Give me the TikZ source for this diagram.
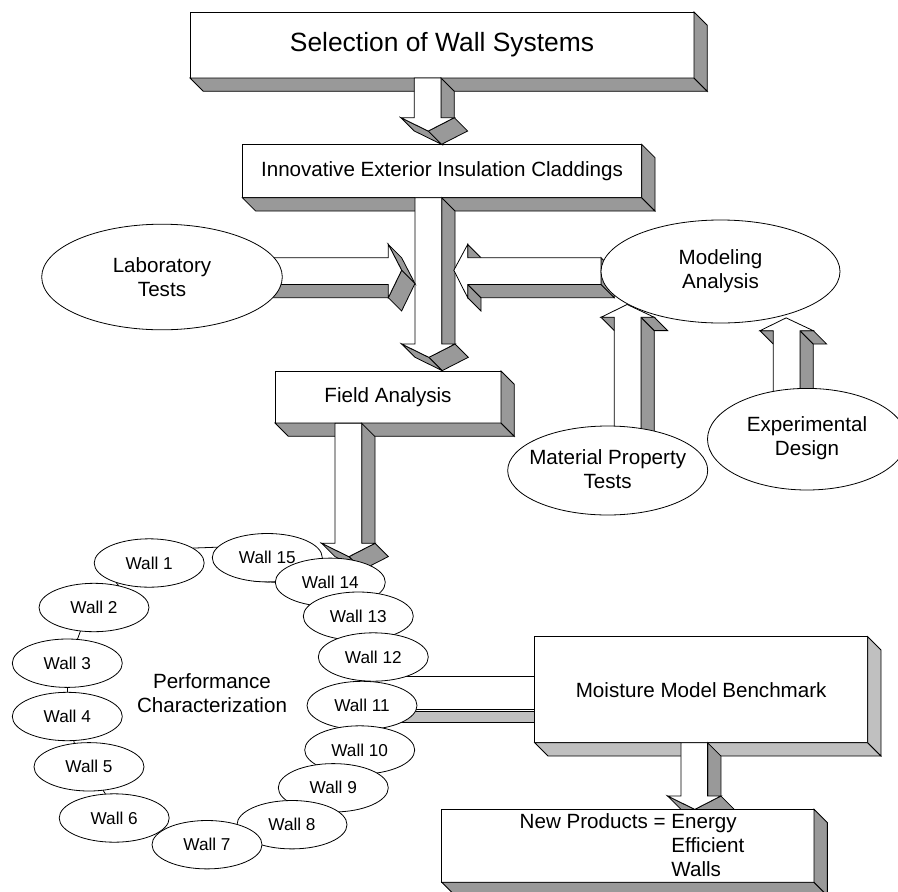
\documentclass[tikz,border=0pt]{standalone}
\usepackage{fontspec}
\setmainfont{Liberation Sans}
\usetikzlibrary{calc,shapes.geometric}
\pgfdeclarelayer{bg}
\pgfsetlayers{bg,main}
\definecolor{sidegray}{HTML}{999999}
\definecolor{lightside}{HTML}{C0C0C0}
\tikzset{
  sideline/.style={draw=black, line width=0.8pt, line join=miter},
  box3d/.style={rectangle, draw=black, fill=white, line width=0.8pt, inner sep=0pt, outer sep=0pt, align=center},
  oval/.style={ellipse, draw=black, fill=white, line width=0.8pt, inner sep=0pt, outer sep=0pt},
  wall/.style={oval, minimum width=110pt, minimum height=48.4pt, font=\fontsize{17.2}{20}\selectfont},
  txt/.style={align=center, inner sep=0pt, font=\fontsize{20.6}{24}\selectfont},
  link/.style={draw=black, line width=0.8pt},
}
\newcommand\boxsides[2]{%
  \filldraw[sideline, fill=#2] (#1.south west) -- (#1.south east) -- ($(#1.south east)+(13.3,13.3)$) -- ($(#1.south west)+(13.3,13.3)$) -- cycle;
  \filldraw[sideline, fill=#2] (#1.north east) -- ($(#1.north east)+(13.3,13.3)$) -- ($(#1.south east)+(13.3,13.3)$) -- (#1.south east) -- cycle;}
% down arrow: #1 shaft left, #2 top, #3 head line, #4 width, #5 depth, #6 fill
\newcommand\arrDown[6]{%
  \filldraw[sideline, fill=#6] ({#1+#4},#2) -- ({#1+#4+#5},{#2+#5}) -- ({#1+#4+#5},{#3+#5}) -- ({#1+#4},#3) -- cycle;
  \filldraw[sideline, fill=#6] ({#1+#4+#5},#3) -- ({#1+0.52*#4},{#3+0.5*#4}) -- ({#1+0.52*#4+#5},{#3+0.5*#4+#5}) -- ({#1+#4+2*#5},{#3+#5}) -- cycle;
  \filldraw[sideline, fill=#6] ({#1-#5},#3) -- ({#1+0.52*#4},{#3+0.5*#4}) -- ({#1+0.52*#4+#5},{#3+0.5*#4+#5}) -- (#1,{#3+#5}) -- cycle;
  \filldraw[sideline, fill=white] (#1,#2) -- ({#1+#4},#2) -- ({#1+#4},#3) -- ({#1+#4+#5},#3) -- ({#1+0.52*#4},{#3+0.5*#4}) -- ({#1-#5},#3) -- (#1,#3) -- cycle;}
% up arrow: #1 shaft left, #2 bottom, #3 head line, #4 width, #5 depth, #6 fill
\newcommand\arrUp[6]{%
  \filldraw[sideline, fill=#6] ({#1+#4},#3) -- ({#1+#4},#2) -- ({#1+#4+#5},{#2+#5}) -- ({#1+#4+#5},{#3+#5}) -- cycle;
  \filldraw[sideline, fill=#6] ({#1+#4},#3) -- ({#1+#4+#5},#3) -- ({#1+#4+2*#5},{#3+#5}) -- ({#1+#4+#5},{#3+#5}) -- cycle;
  \filldraw[sideline, fill=#6] ({#1-#5},#3) -- (#1,#3) -- ({#1+#5},{#3+#5}) -- (#1,{#3+#5}) -- cycle;
  \filldraw[sideline, fill=white] (#1,#2) -- (#1,#3) -- ({#1-#5},#3) -- ({#1+0.48*#4},{#3-0.48*#4}) -- ({#1+#4+#5},#3) -- ({#1+#4},#3) -- ({#1+#4},#2) -- cycle;}
% right arrow: #1 left end, #2 head line, #3 shaft top, #4 width, #5 depth, #6 fill
\newcommand\arrRight[6]{%
  \filldraw[sideline, fill=#6] (#1,{#3+#4}) -- (#2,{#3+#4}) -- ({#2+#5},{#3+#4+#5}) -- ({#1+#5},{#3+#4+#5}) -- cycle;
  \filldraw[sideline, fill=#6] (#2,{#3-#5}) -- ({#2+0.5*#4},{#3+0.47*#4}) -- ({#2+0.5*#4+#5},{#3+0.47*#4+#5}) -- ({#2+#5},#3) -- cycle;
  \filldraw[sideline, fill=#6] ({#2+0.5*#4},{#3+0.47*#4}) -- (#2,{#3+#4+#5}) -- ({#2+#5},{#3+#4+2*#5}) -- ({#2+0.5*#4+#5},{#3+0.47*#4+#5}) -- cycle;
  \filldraw[sideline, fill=white] (#1,#3) -- (#2,#3) -- (#2,{#3-#5}) -- ({#2+0.5*#4},{#3+0.47*#4}) -- (#2,{#3+#4+#5}) -- (#2,{#3+#4}) -- (#1,{#3+#4}) -- cycle;}
% left arrow: #1 head line, #2 right end, #3 shaft top, #4 width, #5 depth, #6 fill
\newcommand\arrLeft[6]{%
  \filldraw[sideline, fill=#6] (#1,{#3-#5}) -- (#1,#3) -- ({#1+#5},{#3+#5}) -- ({#1+#5},#3) -- cycle;
  \filldraw[sideline, fill=#6] (#1,{#3+#4}) -- (#1,{#3+#4+#5}) -- ({#1+#5},{#3+#4+2*#5}) -- ({#1+#5},{#3+#4+#5}) -- cycle;
  \filldraw[sideline, fill=#6] (#1,{#3+#4}) -- (#2,{#3+#4}) -- ({#2+#5},{#3+#4+#5}) -- ({#1+#5},{#3+#4+#5}) -- cycle;
  \filldraw[sideline, fill=#6] (#2,#3) -- (#2,{#3+#4}) -- ({#2+#5},{#3+#4+#5}) -- ({#2+#5},{#3+#5}) -- cycle;
  \filldraw[sideline, fill=white] (#2,#3) -- (#1,#3) -- (#1,{#3-#5}) -- ({#1-0.52*#4},{#3+0.47*#4}) -- (#1,{#3+#4+#5}) -- (#1,{#3+#4}) -- (#2,{#3+#4}) -- cycle;}
\begin{document}
\begin{tikzpicture}[x=1pt, y=-1pt]
\useasboundingbox (0,0) rectangle (898,892);
% top boxes
\node[box3d, minimum width=504pt, minimum height=66pt, font=\fontsize{26.4}{30}\selectfont] (sel) at (442,45) {Selection of Wall Systems};
\boxsides{sel}{sidegray}
\node[box3d, txt, minimum width=399.4pt, minimum height=53.4pt] (inn) at (442,171) {Innovative Exterior Insulation Claddings};
\boxsides{inn}{sidegray}
\arrDown{414.3}{78}{117.7}{26.7}{13.3}{sidegray}
\node[box3d, txt, minimum width=226pt, minimum height=52pt] (field) at (388,397) {Field Analysis};
\boxsides{field}{sidegray}
\arrDown{415}{197.7}{344}{26.7}{13.3}{sidegray}
% laboratory
\arrRight{250}{388.3}{257.7}{26.7}{13.3}{sidegray}
\node[oval, minimum width=240.6pt, minimum height=105.6pt] (lab) at (162,277) {};
\node[txt] (labt) at (162,277.5) {Laboratory\\Tests};
% modeling
\arrLeft{467.7}{601}{257.7}{26.7}{13.3}{sidegray}
\node[oval, minimum width=239pt, minimum height=103pt] (model) at (720.5,271.5) {};
\node[txt] (modelt) at (720.5,270.8) {Modeling\\Analysis};
\arrUp{614.3}{440}{317.3}{26.7}{13.3}{sidegray}
\arrUp{773.3}{400}{330.7}{26.7}{13.3}{sidegray}
\node[oval, minimum width=200pt, minimum height=89pt] (mat) at (607.7,470.5) {};
\node[txt] (matt) at (607.7,469.5) {Material Property\\Tests};
\node[oval, minimum width=199pt, minimum height=101.6pt] (exp) at (807,439.2) {};
\node[txt] (expt) at (807,438.4) {Experimental\\Design};
% field analysis to walls
\arrDown{335}{423.3}{543.3}{26.7}{13.3}{sidegray}
% walls
\node[wall] (w1) at (149.2,563) {Wall 1};
\node[wall] (w2) at (94,607.5) {Wall 2};
\node[wall] (w3) at (67.3,663.2) {Wall 3};
\node[wall] (w4) at (67.3,716.5) {Wall 4};
\node[wall] (w5) at (89,766.8) {Wall 5};
\node[wall] (w6) at (114.2,818) {Wall 6};
\node[wall] (w15) at (267.3,557.7) {Wall 15};
\node[wall] (w14) at (330.3,582.3) {Wall 14};
\node[wall] (w13) at (358.3,616.2) {Wall 13};
\node[wall] (w12) at (373.3,657) {Wall 12};
\node[wall] (w11) at (362,705.5) {Wall 11};
\node[wall] (w10) at (359.7,750) {Wall 10};
\node[wall] (w9) at (333.3,787.8) {Wall 9};
\node[wall] (w8) at (292,824.7) {Wall 8};
\node[wall] (w7) at (207,844.7) {Wall 7};
\node[txt] (perf) at (212,693.3) {Performance\\Characterization};
% moisture model
\node[box3d, txt, minimum width=333pt, minimum height=106pt] (moist) at (701.2,689.7) {Moisture Model Benchmark};
\boxsides{moist}{lightside}
\arrDown{680.9}{742.7}{796}{26.7}{13.3}{sidegray}
\node[box3d, minimum width=372.3pt, minimum height=73pt] (np) at (627.9,845.8) {};
\boxsides{np}{sidegray}
\node[txt, align=left, anchor=west] (npt) at (519.5,845.5) {New Products = Energy\\\phantom{New Products = }Efficient\\\phantom{New Products = }Walls};
% links behind
\begin{pgfonlayer}{bg}
\draw[link] (w1.19) -- (w15.168);
\draw[link] (w15.240) -- (w14.west);
\draw[link] (w1.210) -- (w2.41);
\draw[link] (w2.240) -- (w3.67);
\draw[link] (w3.south) -- (w4.north);
\draw[link] (w4.-75) -- (w5.122);
\draw[link] (w5.-59) -- (w6.110);
\draw[link] ($(w12.center)+(0,19)$) -- ($(w12.center -| moist.west)+(0,19)$);
\filldraw[sideline, fill=lightside] ($(w11.center)+(0,6)$) rectangle ($(w11.center -| moist.west)+(0,17.2)$);
\draw[link] ($(w11.center)+(0,3.8)$) -- ($(w11.center -| moist.west)+(0,3.8)$);
\end{pgfonlayer}
\end{tikzpicture}
\end{document}
